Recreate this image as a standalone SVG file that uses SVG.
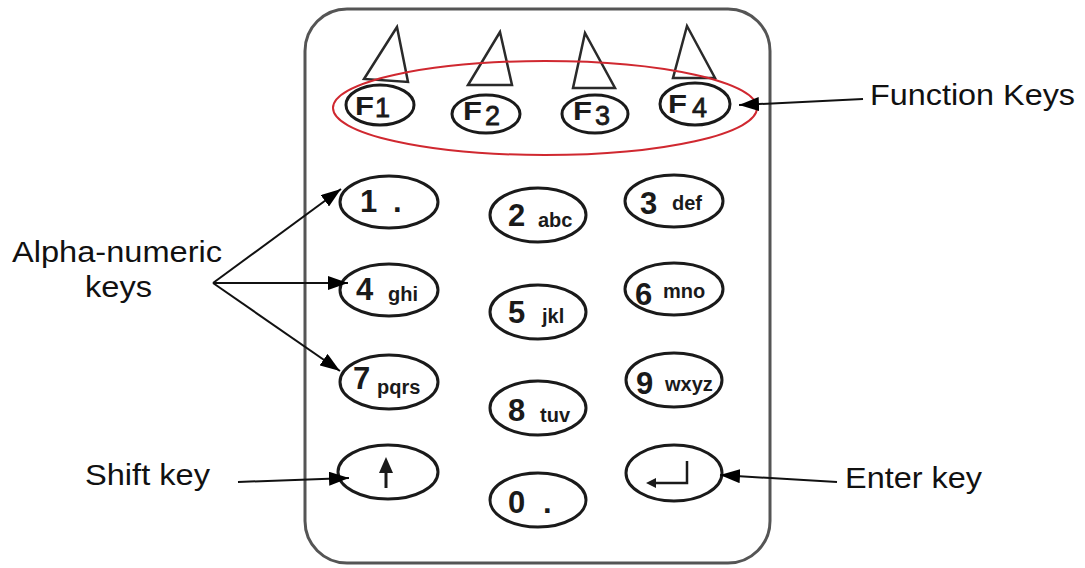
<svg xmlns="http://www.w3.org/2000/svg" width="1085" height="568" viewBox="0 0 1085 568">
<style>
.key{fill:none;stroke:#1a1a1a;stroke-width:3}
.tri{fill:none;stroke:#2a2a2a;stroke-width:2.5;stroke-linejoin:miter}
.dig{font-family:"Liberation Sans",Arial,sans-serif;font-weight:bold;font-size:31px;fill:#1a1a1a}
.sm{font-family:"Liberation Sans",Arial,sans-serif;font-weight:bold;font-size:20px;fill:#1a1a1a}
.fk{font-family:"Liberation Sans",Arial,sans-serif;font-weight:bold;font-size:26px;fill:#1a1a1a}
.fn{font-family:"Liberation Sans",Arial,sans-serif;font-size:27px;fill:#1a1a1a;stroke:#1a1a1a;stroke-width:0.8}
.lbl{font-family:"Liberation Sans",Arial,sans-serif;font-size:30px;fill:#111}
.con{fill:none;stroke:#111;stroke-width:2}
</style>
<defs>
<marker id="ah" markerUnits="userSpaceOnUse" markerWidth="20" markerHeight="14" refX="20" refY="7" orient="auto">
<path d="M0,0 L20,7 L0,14 z" fill="#000"/>
</marker>
</defs>
<rect width="1085" height="568" fill="#fff"/>
<g id="keypad-body">
<rect x="305" y="9" width="465" height="554" rx="42" ry="42" fill="none" stroke="#555" stroke-width="3"/>
</g>
<g id="function-keys">
<polygon class="tri" points="397,27 364,79 408,82"/>
<polygon class="tri" points="500,32 468,85 512,85"/>
<polygon class="tri" points="585,33 573,88 615,88"/>
<polygon class="tri" points="687,26 673,78 715,78"/>
<g id="key-f1"><ellipse class="key" cx="380" cy="105" rx="34" ry="20"/><text class="fk" x="355" y="115" textLength="19" lengthAdjust="spacingAndGlyphs">F</text><text class="fn" x="375" y="117">1</text></g>
<g id="key-f2"><ellipse class="key" cx="486" cy="114" rx="34" ry="19"/><text class="fk" x="463" y="120" textLength="19" lengthAdjust="spacingAndGlyphs">F</text><text class="fn" x="485" y="125">2</text></g>
<g id="key-f3"><ellipse class="key" cx="595" cy="114" rx="33" ry="19"/><text class="fk" x="573" y="120" textLength="19" lengthAdjust="spacingAndGlyphs">F</text><text class="fn" x="595" y="125">3</text></g>
<g id="key-f4"><ellipse class="key" cx="695" cy="104" rx="35" ry="21"/><text class="fk" x="668" y="113" textLength="19" lengthAdjust="spacingAndGlyphs">F</text><text class="fn" x="692" y="117">4</text></g>
<ellipse id="function-highlight" cx="545" cy="108" rx="212" ry="47" fill="none" stroke="#d02830" stroke-width="2"/>
</g>
<g id="key-1"><ellipse class="key" cx="389" cy="202" rx="49" ry="26"/><text class="dig" x="360" y="212">1</text><text class="dig" x="393" y="212">.</text></g>
<g id="key-2"><ellipse class="key" cx="538" cy="215" rx="48" ry="27"/><text class="dig" x="508" y="226">2</text><text class="sm" x="538" y="227">abc</text></g>
<g id="key-3"><ellipse class="key" cx="674" cy="201" rx="49" ry="26"/><text class="dig" x="640" y="214">3</text><text class="sm" x="672" y="210">def</text></g>
<g id="key-4"><ellipse class="key" cx="389" cy="290" rx="49" ry="26"/><text class="dig" x="356" y="300">4</text><text class="sm" x="388" y="301">ghi</text></g>
<g id="key-5"><ellipse class="key" cx="538" cy="312" rx="48" ry="27"/><text class="dig" x="508" y="323">5</text><text class="sm" x="542" y="323">jkl</text></g>
<g id="key-6"><ellipse class="key" cx="674" cy="289" rx="49" ry="26"/><text class="dig" x="635" y="305">6</text><text class="sm" x="663" y="298">mno</text></g>
<g id="key-7"><ellipse class="key" cx="389" cy="382" rx="49" ry="27"/><text class="dig" x="353" y="389">7</text><text class="sm" x="377" y="394">pqrs</text></g>
<g id="key-8"><ellipse class="key" cx="538" cy="408" rx="48" ry="27"/><text class="dig" x="508" y="421">8</text><text class="sm" x="540" y="422">tuv</text></g>
<g id="key-9"><ellipse class="key" cx="674" cy="380" rx="48" ry="27"/><text class="dig" x="636" y="394">9</text><text class="sm" x="665" y="391">wxyz</text></g>
<g id="key-shift"><ellipse class="key" cx="388" cy="472" rx="50" ry="27"/><line x1="386" y1="468" x2="386" y2="488" stroke="#1a1a1a" stroke-width="3"/><path d="M386,457 L379,473 L393,473 z" fill="#1a1a1a"/></g>
<g id="key-0"><ellipse class="key" cx="538" cy="500" rx="48" ry="27"/><text class="dig" x="508" y="513">0</text><text class="dig" x="543" y="513">.</text></g>
<g id="key-enter"><ellipse class="key" cx="674" cy="473" rx="48" ry="28"/><path d="M687,461 L687,483 L655,483" fill="none" stroke="#1a1a1a" stroke-width="2.5"/><path d="M646,483 L656,478 L656,488 z" fill="#1a1a1a"/></g>
<g id="labels">
<text class="lbl" x="870" y="105" textLength="205" lengthAdjust="spacingAndGlyphs">Function Keys</text>
<text class="lbl" x="12" y="262" textLength="210" lengthAdjust="spacingAndGlyphs">Alpha-numeric</text>
<text class="lbl" x="85" y="297" textLength="67" lengthAdjust="spacingAndGlyphs">keys</text>
<text class="lbl" x="85" y="485" textLength="125" lengthAdjust="spacingAndGlyphs">Shift key</text>
<text class="lbl" x="845" y="488" textLength="137" lengthAdjust="spacingAndGlyphs">Enter key</text>
</g>
<g id="connectors">
<line class="con" x1="863" y1="99" x2="739" y2="105" marker-end="url(#ah)"/>
<line class="con" x1="213" y1="283" x2="341" y2="189" marker-end="url(#ah)"/>
<line class="con" x1="213" y1="283" x2="348" y2="283" marker-end="url(#ah)"/>
<line class="con" x1="213" y1="283" x2="340" y2="371" marker-end="url(#ah)"/>
<line class="con" x1="238" y1="482" x2="349" y2="478" marker-end="url(#ah)"/>
<line class="con" x1="837" y1="482" x2="720" y2="475" marker-end="url(#ah)"/>
</g>
</svg>
